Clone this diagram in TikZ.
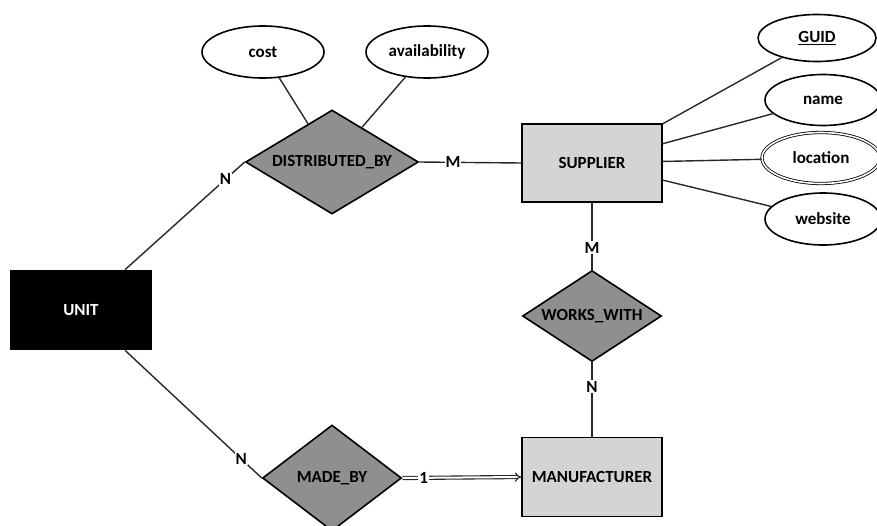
\documentclass[tikz,border=0pt]{standalone}
\usepackage{fontspec}
\setmainfont{Carlito}
\usetikzlibrary{shapes.geometric,arrows.meta}
\definecolor{relgray}{RGB}{143,143,143}
\definecolor{entgray}{RGB}{212,212,212}
\definecolor{linegray}{RGB}{40,40,40}
\begin{document}
\begin{tikzpicture}[x=1pt,y=-1pt,
  every node/.style={font=\fontsize{17}{20}\selectfont\bfseries},
  ent/.style={draw=black,line width=1.6pt,fill=entgray,minimum width=140pt,minimum height=79pt,inner sep=0pt},
  rel/.style={diamond,draw=black,line width=1.6pt,fill=relgray,inner sep=0pt},
  attr/.style={ellipse,draw=black,line width=1.6pt,fill=white,inner sep=0pt,minimum width=120pt,minimum height=51pt},
  conn/.style={draw=linegray,line width=1.4pt},
  card/.style={fill=white,inner sep=1pt}]
\useasboundingbox (0,0) rectangle (877,525);

% entities
\node[ent,fill=black,text=white] (unit) at (81,310) {UNIT};
\node[ent,minimum height=78pt] (sup) at (592,163) {SUPPLIER};
\node[ent] (manu) at (592,477) {MANUFACTURER};

% relationships
\node[rel,minimum width=173pt,minimum height=104pt,aspect=1.66] (db) at (332,162) {DISTRIBUTED\_BY};
\node[rel,minimum width=139pt,minimum height=91pt,aspect=1.5] (ww) at (592,316) {WORKS\_WITH};
\node[rel,minimum width=139pt,minimum height=106pt,aspect=1.3] (mb) at (332,478) {MADE\_BY};

% attributes
\node[attr,minimum width=122pt,minimum height=52pt] (cost) at (263,52) {cost};
\node[attr,minimum width=122pt,minimum height=52pt] (avail) at (427,52) {availability};
\node[attr,minimum width=118pt,minimum height=47pt] (guid) at (817,38) {\underline{GUID}};
\node[attr,minimum width=116pt] (name) at (823,100) {name};
\node[attr,minimum width=118pt,draw=black,double=white,double distance=1.6pt,line width=0.8pt] (loc) at (821,158) {location};
\node[attr,minimum width=116pt,minimum height=52pt] (web) at (823,219) {website};

% connectors
\draw[conn] (cost) -- (db);
\draw[conn] (avail) -- (db);
\draw[conn] (sup) -- (guid);
\draw[conn] (sup) -- (name);
\draw[conn] (sup) -- (loc);
\draw[conn] (sup) -- (web);

\draw[conn] (db.east) -- (sup.west) node[card,pos=0.33] {M};
\draw[conn] ([xshift=44pt]unit.north) -- (db.west) node[card,pos=0.84] {N};
\draw[conn] ([xshift=44pt]unit.south) -- (mb.west) node[card,pos=0.85] {N};
\draw[conn] (sup.south) -- (ww.north) node[card,pos=0.67] {M};
\draw[conn] (ww.south) -- (manu.north) node[card,pos=0.33] {N};
\draw[draw=linegray,line width=1.1pt,double=white,double distance=2pt,-{Implies[length=3pt]}] (mb.east) -- (manu.west) node[card,pos=0.18] {1};
\end{tikzpicture}
\end{document}
